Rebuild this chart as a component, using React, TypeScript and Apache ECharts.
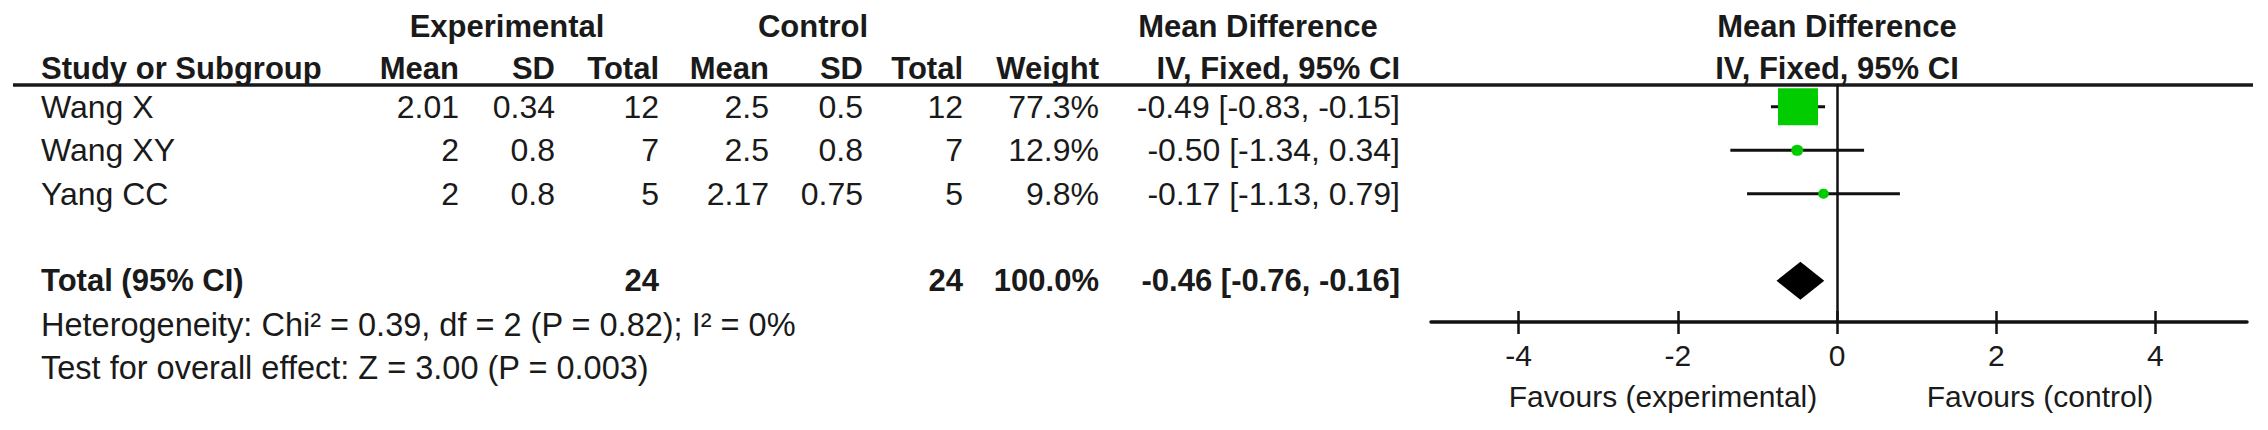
import React, { useEffect, useRef } from 'react';
import * as echarts from 'echarts';

// ---- data ----
const studies = ['Wang X', 'Wang XY', 'Yang CC'];
const expMean = [2.01, 2, 2];
const expSD = [0.34, 0.8, 0.8];
const expTotal = [12, 7, 5];
const ctrlMean = [2.5, 2.5, 2.17];
const ctrlSD = [0.5, 0.8, 0.75];
const ctrlTotal = [12, 7, 5];
const weights = [77.3, 12.9, 9.8];
const meanDiff = [-0.49, -0.5, -0.17];
const ciLow = [-0.83, -1.34, -1.13];
const ciHigh = [-0.15, 0.34, 0.79];

const totalLabel = 'Total (95% CI)';
const totalExp = 24;
const totalCtrl = 24;
const totalWeight = 100.0;
const totalMD = -0.46;
const totalLow = -0.76;
const totalHigh = -0.16;

const heterogeneityText = 'Heterogeneity: Chi\u00B2 = 0.39, df = 2 (P = 0.82); I\u00B2 = 0%';
const overallText = 'Test for overall effect: Z = 3.00 (P = 0.003)';
const xTicks = [-4, -2, 0, 2, 4];
const favourLeft = 'Favours (experimental)';
const favourRight = 'Favours (control)';

const FONT = '"Liberation Sans", Arial, sans-serif';
const INK = '#1a1a1a';
const GREEN = '#00cc00';

const fmtCI = (m: number, l: number, h: number) =>
  `${m.toFixed(2)} [${l.toFixed(2)}, ${h.toFixed(2)}]`;

export default function App() {
  const ref = useRef<HTMLDivElement>(null);

  useEffect(() => {
    document.body.style.margin = '0';
    if (!ref.current) return;
    const chart = echarts.init(ref.current, null, { renderer: 'svg' });

    const GRID_TOP = 85;
    const GRID_BOTTOM_Y = 322;
    const Y_MAX = (GRID_BOTTOM_Y - GRID_TOP) / 43.5;

    const studyData = studies.map((s, i) => [meanDiff[i], i + 0.5, ciLow[i], ciHigh[i], weights[i]]);
    const totalRowIndex = studies.length + 1;

    const tickAxisBase = {
      type: 'value', min: -5.1, max: 5.15, position: 'bottom',
      splitLine: { show: false },
    };

    chart.setOption({
      animation: false,
      grid: { left: 1431, top: GRID_TOP, width: 816, height: GRID_BOTTOM_Y - GRID_TOP },
      xAxis: [
        {
          ...tickAxisBase,
          axisLine: { show: true, onZero: false, lineStyle: { color: '#111', width: 3.5 } },
          axisTick: { show: true, customValues: xTicks, length: 12, lineStyle: { color: '#111', width: 2.5 } },
          axisLabel: { show: true, customValues: xTicks, margin: 18, fontSize: 30, color: INK, fontFamily: FONT },
        },
        {
          ...tickAxisBase,
          axisLine: { show: false, onZero: false },
          axisTick: { show: true, inside: true, customValues: xTicks, length: 11, lineStyle: { color: '#111', width: 2.5 } },
          axisLabel: { show: false },
        },
      ],
      yAxis: { type: 'value', min: 0, max: Y_MAX, inverse: true, show: false },
      series: [
        {
          type: 'custom',
          name: 'studies',
          xAxisIndex: 0,
          data: studyData,
          encode: { x: 0, y: 1 },
          z: 3,
          renderItem: (params: any, api: any) => {
            const y = api.value(1);
            const c = api.coord([api.value(0), y]);
            const lo = api.coord([api.value(2), y]);
            const hi = api.coord([api.value(3), y]);
            const w = api.value(4);
            const size = 6.4 + 0.435 * w;
            const h = size * 0.93;
            return {
              type: 'group',
              children: [
                { type: 'line', shape: { x1: lo[0], y1: c[1], x2: hi[0], y2: c[1] }, style: { stroke: '#111', lineWidth: 3 } },
                {
                  type: 'rect',
                  shape: { x: c[0] - size / 2, y: c[1] - h / 2, width: size, height: h, r: size < 20 ? size / 2 : 0 },
                  style: { fill: GREEN },
                },
              ],
            };
          },
          markLine: {
            silent: true,
            symbol: 'none',
            label: { show: false },
            lineStyle: { color: '#111', width: 2.5, type: 'solid' },
            data: [{ xAxis: 0 }],
          },
        },
        {
          type: 'custom',
          name: 'total',
          xAxisIndex: 0,
          data: [[totalMD, totalRowIndex + 0.5, totalLow, totalHigh]],
          encode: { x: 0, y: 1 },
          z: 4,
          renderItem: (params: any, api: any) => {
            const y = api.value(1);
            const c = api.coord([api.value(0), y]);
            const lo = api.coord([api.value(2), y]);
            const hi = api.coord([api.value(3), y]);
            const hh = 19;
            return {
              type: 'polygon',
              shape: { points: [[lo[0], c[1]], [c[0], c[1] - hh], [hi[0], c[1]], [c[0], c[1] + hh]] },
              style: { fill: '#000' },
            };
          },
        },
      ],
    });

    const rowY = (i: number) => chart.convertToPixel({ yAxisIndex: 0 }, i + 0.5) as number;

    const txt = (text: string, x: number, y: number, align: string, bold = false, size?: number) => ({
      type: 'text',
      silent: true,
      style: {
        text, x, y,
        font: `${bold ? 'bold ' : ''}${size ?? (bold ? 31 : 32)}px ${FONT}`,
        fill: INK,
        textAlign: align, align,
        textVerticalAlign: 'middle', verticalAlign: 'middle',
      },
    });

    const cols = { name: 41, eMean: 459, eSD: 555, eTot: 659, cMean: 769, cSD: 863, cTot: 963, weight: 1099, ci: 1400 };
    const H1 = 26;
    const H2 = 68;

    const elements: any[] = [
      txt('Experimental', 507, H1, 'center', true),
      txt('Control', 813, H1, 'center', true),
      txt('Mean Difference', 1258, H1, 'center', true),
      txt('Mean Difference', 1837, H1, 'center', true),
      txt('Study or Subgroup', cols.name, H2, 'left', true),
      txt('Mean', cols.eMean, H2, 'right', true),
      txt('SD', cols.eSD, H2, 'right', true),
      txt('Total', cols.eTot, H2, 'right', true),
      txt('Mean', cols.cMean, H2, 'right', true),
      txt('SD', cols.cSD, H2, 'right', true),
      txt('Total', cols.cTot, H2, 'right', true),
      txt('Weight', cols.weight, H2, 'right', true),
      txt('IV, Fixed, 95% CI', cols.ci, H2, 'right', true),
      txt('IV, Fixed, 95% CI', 1837, H2, 'center', true),
      {
        type: 'line', silent: true,
        shape: { x1: 13, y1: GRID_TOP, x2: 2253, y2: GRID_TOP },
        style: { stroke: '#1a1a1a', lineWidth: 3.5 },
      },
    ];

    studies.forEach((s, i) => {
      const y = rowY(i);
      elements.push(
        txt(s, cols.name, y, 'left'),
        txt(String(expMean[i]), cols.eMean, y, 'right'),
        txt(String(expSD[i]), cols.eSD, y, 'right'),
        txt(String(expTotal[i]), cols.eTot, y, 'right'),
        txt(String(ctrlMean[i]), cols.cMean, y, 'right'),
        txt(String(ctrlSD[i]), cols.cSD, y, 'right'),
        txt(String(ctrlTotal[i]), cols.cTot, y, 'right'),
        txt(`${weights[i].toFixed(1)}%`, cols.weight, y, 'right'),
        txt(fmtCI(meanDiff[i], ciLow[i], ciHigh[i]), cols.ci, y, 'right'),
      );
    });

    const ty = rowY(totalRowIndex);
    elements.push(
      txt(totalLabel, cols.name, ty, 'left', true),
      txt(String(totalExp), cols.eTot, ty, 'right', true),
      txt(String(totalCtrl), cols.cTot, ty, 'right', true),
      txt(`${totalWeight.toFixed(1)}%`, cols.weight, ty, 'right', true),
      txt(fmtCI(totalMD, totalLow, totalHigh), cols.ci, ty, 'right', true),
      txt(heterogeneityText, cols.name, rowY(totalRowIndex + 1) + 1, 'left', false, 32.5),
      txt(overallText, cols.name, rowY(totalRowIndex + 2), 'left', false, 32.5),
      txt(favourLeft, 1663, 396, 'center', false, 30),
      txt(favourRight, 2040, 396, 'center', false, 30),
    );

    chart.setOption({ graphic: { elements } });

    return () => chart.dispose();
  }, []);

  return <div ref={ref} style={{ width: 2268, height: 430 }} />;
}
